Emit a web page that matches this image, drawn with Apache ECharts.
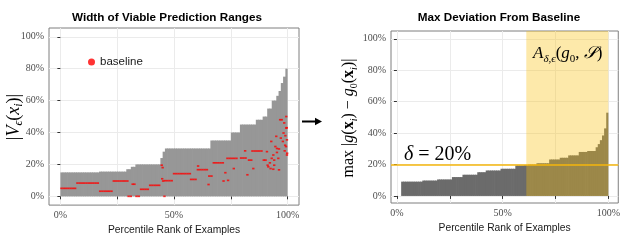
<!DOCTYPE html>
<html><head><meta charset="utf-8">
<script src="https://cdn.jsdelivr.net/npm/echarts@6/dist/echarts.min.js"></script>
<style>html,body{margin:0;padding:0;background:#fff}#c{width:623px;height:240px}</style>
</head><body><div id="c"></div>
<script>
// ---------- data ----------
const leftTitle = 'Width of Viable Prediction Ranges';
const rightTitle = 'Max Deviation From Baseline';
const xAxisTitle = 'Percentile Rank of Examples';
const legendName = 'baseline';

// width of viable prediction range (%) per percentile rank bin, sorted
const leftWidths = [
  15,15,15,15,15,15,15,15,15,15,15,15,15,15,15,15,15,
  15.5,15.5,15.5,15.5,15.5,15.5,15.5,15.5,15.5,15.5,15.5,15.5,
  17,17,18.5,18.5,
  20,20,20,20,20,20,20,20,20,20,20,
  24,28,
  30,30,30,30,30,30,30,30,30,30,30,30,30,30,30,30,30,30,30,30,
  35,35,35,35,35,35,35,35,35,
  40,40,40,40,
  45,45,45,45,45,45,45,
  48,48,48,
  50,50,55,55,60,60,
  63,66,71,75,80
];

// baseline points [percentile rank, %]
const baselinePoints = [
  [0.5,5],[1.5,5],[2.5,5],[3.5,5],[4.5,5],[5.5,5],[6.5,5],
  [7.5,8.3],[8.5,8.3],[9.5,8.3],[10.5,8.3],[11.5,8.3],[12.5,8.3],[13.5,8.3],[14.5,8.3],[15.5,8.3],[16.5,8.3],
  [17.5,3.2],[18.5,3.2],[19.5,3.2],[20.5,3.2],[21.5,3.2],[22.5,3.2],
  [23.5,9.6],[24.5,9.6],[25.5,9.6],[26.5,9.6],[27.5,9.6],[28.5,9.6],[29.5,9.6],
  [30,0],[31,0],[33.5,0],[34.5,0],
  [31.8,7.6],[32.6,7.6],
  [35.5,4.4],[36.5,4.4],[37.5,4.4],[38.5,4.4],
  [39.5,6.9],[40.5,6.9],[41.5,6.9],[42.5,6.9],[43.5,6.9],
  [44.6,19.5],[45,18],[44.8,11],[45.2,9.6],[45.8,0],
  [46,9.8],[47,9.8],[48,9.8],[49,9.8],
  [50,14.2],[51,14.2],[52,14.2],[53,14.2],[54,14.2],[55,14.2],[56,14.2],[57,14.2],
  [57.5,10.6],[58.5,10.6],[59.5,10.6],
  [60.5,16.7],[61.5,16.7],[62.5,16.7],[63.5,16.7],[64.5,16.7],[60.6,19],
  [65.5,12.7],[66.5,12.7],[65.2,7.4],
  [67.5,21],[68.5,21],[69.5,21],[70.5,21],[71.5,21],
  [71.8,9.6],[72.6,14.8],
  [73.5,23.8],[74.5,23.8],[75.5,23.8],[76.5,23.8],[77.5,23.8],
  [73.8,10],[76.3,17.4],
  [79.5,24],[80.5,24],[81.5,24],
  [82.3,13.5],[81.3,28.5],
  [83,22.7],[84,22.7],
  [84.5,28.4],[85.5,28.4],[86.5,28.4],[87.5,28.4],[88.5,28.4],[84.9,17.4],
  [89.5,22.7],[90.3,22.7],
  [91.2,19.5],[92.5,17.4],
  [90.9,28],[91.5,18.5],[92.8,34.4],[93.0,23.8],[93.7,25.9],[93.7,17],[94.1,22.7],[94.1,19.5],
  [94.6,31.2],[95.3,30],[95.3,27.5],[95.9,23.8],[96.2,29.7],[96.2,16.6],[96.7,48],[97.4,48],
  [97.9,34.4],[98.2,39.7],[98.5,46],[98.7,28.5],[98.9,32],[99.0,38],[99.3,31.2],[99.4,42.8],
  [99.4,50],[99.6,43],[99.7,35.4],[99.7,25.9],[99.8,27],[97,36.5],[95,37.6],[92.2,21]
];

// max deviation from baseline (%) per percentile rank bin, starting at rank 2%
const rightFirstRank = 2;
const rightDeviation = [
  9.1,9.1,9.1,9.1,9.1,9.1,9.1,9.1,9.1,9.1,
  9.8,9.8,9.8,9.8,9.8,9.8,9.8,
  10.5,10.5,10.5,10.5,10.5,10.5,10.5,
  12,12,12,12,12,
  13.5,13.5,13.5,13.5,13.5,13.5,13.5,
  15.1,15.1,15.1,15.1,
  16.2,16.2,16.2,16.2,16.2,16.2,16.2,
  17.3,17.3,17.3,17.3,17.3,17.3,17.3,
  19.4,19.4,19.4,19.4,
  19.6,19.6,
  19.9,19.9,19.9,19.9,
  20.8,20.8,20.8,20.8,20.8,20.8,
  23.2,23.2,23.2,23.2,23.2,
  24.3,24.3,24.3,24.3,
  25.8,25.8,25.8,25.8,25.8,
  28,28,28,28,
  28.6,28.6,28.6,28.6,
  31,33,35.5,38.5,43,53
];

const deltaThreshold = 20;          // δ = 20%
const shadeRange = [61.2, 100];     // A_{δ,ε}(g0,S) region (percentile rank)
const xTickValues = [0, 25, 50, 75, 100];
const xLabelValues = [0, 50, 100];
const yTickValues = [0, 20, 40, 60, 80, 100];

// ---------- build ----------
const leftData = leftWidths.map((v, i) => [(i + 0.5) * 100 / leftWidths.length, v]);
const rightStep = (100 - rightFirstRank) / rightDeviation.length;
const rightData = rightDeviation.map((v, i) => [rightFirstRank + (i + 0.5) * rightStep, v]);

const SANS = '"Liberation Sans", Arial, Helvetica, sans-serif';
const SERIF = '"Liberation Serif", "Times New Roman", serif';
const GRID_LINE = '#ebebeb';

function barRender(color, halfW) {
  return function (params, api) {
    const x = api.value(0), y = api.value(1);
    const a = api.coord([x - halfW, y]);
    const b = api.coord([x + halfW, 0]);
    const last = params.dataIndex === params.dataInsideLength - 1;
    return { type: 'rect', shape: { x: a[0], y: a[1], width: b[0] - a[0] + (last ? 0 : 0.7), height: b[1] - a[1] },
             style: { fill: color } };
  };
}

function xAxis(gi, min, max) {
  return {
    type: 'value', gridIndex: gi, min: min, max: max, minInterval: 12.5, maxInterval: 12.5,
    axisLine: { show: false },
    axisTick: { show: true, length: 3, customValues: xTickValues, lineStyle: { color: '#333', width: 1 } },
    axisLabel: { customValues: xLabelValues, formatter: v => v + '%', fontFamily: SERIF, fontSize: 10, color: '#4d4d4d', margin: 5 },
    splitLine: { show: true, lineStyle: { color: GRID_LINE, width: 1 } },
    name: xAxisTitle, nameLocation: 'middle', nameGap: 15,
    nameTextStyle: { fontFamily: SANS, fontSize: 10.3, color: '#1a1a1a' }
  };
}
function yAxis(gi, min, max) {
  return {
    type: 'value', gridIndex: gi, min: min, max: max, minInterval: 10, maxInterval: 10,
    axisLine: { show: false },
    axisTick: { show: true, length: 3, customValues: yTickValues, lineStyle: { color: '#333', width: 1 } },
    axisLabel: { customValues: yTickValues, formatter: v => v + '%', fontFamily: SERIF, fontSize: 10, color: '#4d4d4d', margin: 5 },
    splitLine: { show: true, lineStyle: { color: GRID_LINE, width: 1 } }
  };
}

const chart = echarts.init(document.getElementById('c'), null, { renderer: 'canvas' });
const mathRich = (size) => ({
  n: { fontFamily: SERIF, fontSize: size, lineHeight: size + 4, color: '#111' },
  it: { fontFamily: SERIF, fontStyle: 'italic', fontSize: size, lineHeight: size + 4, color: '#111' },
  b: { fontFamily: SERIF, fontWeight: 'bold', fontSize: size, lineHeight: size + 4, color: '#111' },
  sub: { fontFamily: SERIF, fontStyle: 'italic', fontSize: Math.round(size * 0.64), lineHeight: Math.round(size * 0.64), verticalAlign: 'bottom', color: '#111' },
  subn: { fontFamily: SERIF, fontSize: Math.round(size * 0.64), lineHeight: Math.round(size * 0.64), verticalAlign: 'bottom', color: '#111' },
  cal: { fontFamily: '"DejaVu Serif", "DejaVu Sans", serif', fontStyle: 'italic', fontSize: size, lineHeight: size + 4, color: '#111' }
});

chart.setOption({
  animation: false,
  backgroundColor: '#fff',
  grid: [
    { left: 49, top: 28, width: 250, height: 179, show: true, borderColor: '#7f7f7f', borderWidth: 1, backgroundColor: 'transparent' },
    { left: 391, top: 31, width: 230, height: 172, show: true, borderColor: '#7f7f7f', borderWidth: 1, backgroundColor: 'transparent' }
  ],
  xAxis: [xAxis(0, -5, 105), xAxis(1, -2.8, 104.7)],
  yAxis: [yAxis(0, -5.5, 105.5), yAxis(1, -4.5, 105)],
  legend: {
    data: [{ name: legendName, icon: 'circle' }],
    left: 88, top: 56, padding: 0, itemWidth: 7, itemHeight: 7,
    textStyle: { fontFamily: SANS, fontSize: 11.5, color: '#1a1a1a' }
  },
  series: [
    { type: 'custom', name: 'widths', xAxisIndex: 0, yAxisIndex: 0, z: 2,
      renderItem: barRender('#979797', 50 / leftWidths.length), data: leftData },
    { type: 'scatter', name: legendName, xAxisIndex: 0, yAxisIndex: 0, z: 4,
      symbol: 'rect', symbolSize: [2.4, 1.7], itemStyle: { color: '#ff0000' }, data: baselinePoints },
    { type: 'custom', name: 'deviation', xAxisIndex: 1, yAxisIndex: 1, z: 2,
      renderItem: barRender('#6b6b6b', rightStep / 2), data: rightData },
    { type: 'custom', name: 'shade', xAxisIndex: 1, yAxisIndex: 1, z: 3,
      renderItem: function (params, api) {
        const a = api.coord([api.value(0), 0]);
        const b = api.coord([api.value(2), 0]);
        const top = params.coordSys.y;
        return { type: 'rect', shape: { x: a[0], y: top, width: b[0] - a[0], height: a[1] - top },
                 style: { fill: 'rgba(249,191,9,0.345)' } };
      },
      data: [[shadeRange[0], 0, shadeRange[1]]],
      markLine: { silent: true, symbol: 'none', label: { show: false }, z: 6,
        lineStyle: { color: '#f4b60c', width: 1.6, type: 'solid' },
        data: [{ yAxis: deltaThreshold }] }
    }
  ],
  graphic: { z: 100, elements: [
    { type: 'text', z: 100, x: 167, y: 18, style: { text: leftTitle, align: 'center', verticalAlign: 'middle', font: 'bold 11.7px ' + SANS, fill: '#000' } },
    { type: 'text', z: 100, x: 499, y: 18, style: { text: rightTitle, align: 'center', verticalAlign: 'middle', font: 'bold 11.7px ' + SANS, fill: '#000' } },
    { type: 'text', z: 100, x: 14, y: 117, rotation: Math.PI / 2,
      style: { text: '{n||}{it|V}{sub|ϵ}{n|(}{it|x}{sub|i}{n|)|}', rich: mathRich(18), align: 'center', verticalAlign: 'middle' } },
    { type: 'text', z: 100, x: 349, y: 118, rotation: Math.PI / 2,
      style: { text: '{n|max |}{it|g}{n|(}{b|x}{sub|i}{n|) − }{it|g}{subn|0}{n|(}{b|x}{sub|i}{n|)|}', rich: mathRich(16), align: 'center', verticalAlign: 'middle' } },
    { type: 'text', z: 100, x: 533, y: 54,
      style: { text: '{it|A}{sub|δ,ϵ}{n|(}{it|g}{subn|0}{n|, }{cal|𝒮}{n|)}', rich: mathRich(17), align: 'left', verticalAlign: 'middle' } },
    { type: 'text', z: 100, x: 404, y: 155,
      style: { text: '{it|δ}{n| = 20%}', rich: mathRich(20), align: 'left', verticalAlign: 'middle' } },
    { type: 'line', z: 100, shape: { x1: 302, y1: 121.5, x2: 316, y2: 121.5 }, style: { stroke: '#000', lineWidth: 2 } },
    { type: 'polygon', z: 100, shape: { points: [[322, 121.5], [315, 117.8], [315, 125.2]] }, style: { fill: '#000' } }
  ] }
});
</script>
</body></html>
